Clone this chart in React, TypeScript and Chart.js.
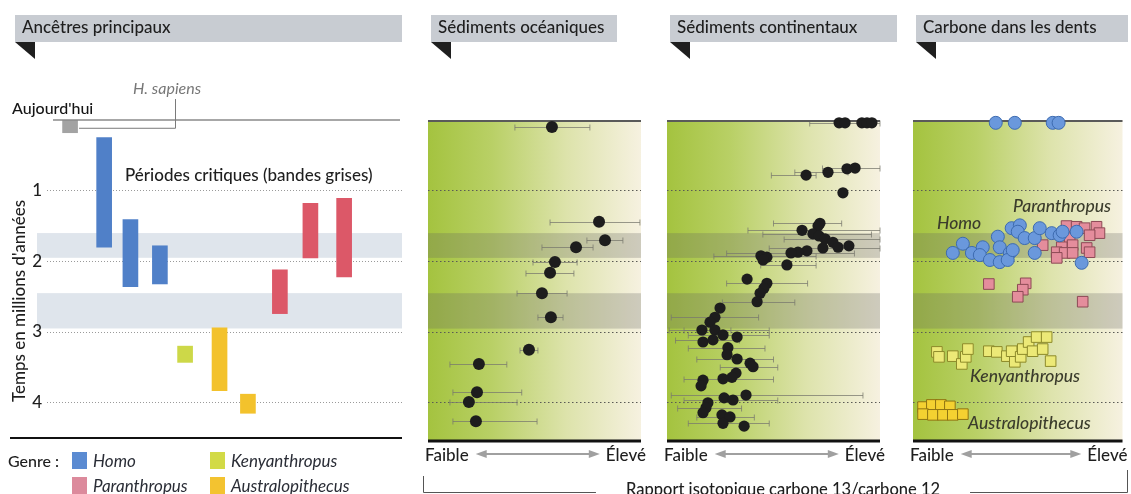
import React, { useEffect, useRef } from 'react';
import { Chart, registerables } from 'chart.js';

Chart.register(...registerables);

const FONT = 'Lato, "Noto Sans", sans-serif';
const W = 1131;
const H = 494;

// ---- shared time axis (millions of years) ----
const timeTicks = [1, 2, 3, 4];
const criticalBands = [
  [1.6, 1.95],
  [2.45, 2.95],
];

// ---- panel 1 : main ancestors (floating bars) ----
const ancestorGenus = ['sapiens', 'Homo', 'Homo', 'Homo', 'Kenyanthropus', 'Australopithecus', 'Australopithecus', 'Paranthropus', 'Paranthropus', 'Paranthropus'];
const ancestorPos = [6.5, 16.1, 23.5, 31.8, 38.9, 48.6, 56.6, 65.6, 74.2, 83.7];
const ancestorStart = [0, 0.25, 1.41, 1.78, 3.2, 2.94, 3.88, 2.12, 1.18, 1.11];
const ancestorEnd = [0.18, 1.8, 2.36, 2.32, 3.43, 3.83, 4.15, 2.74, 1.95, 2.22];

const genusNames = ['Homo', 'Paranthropus', 'Kenyanthropus', 'Australopithecus'];
const genusBarColors: Record<string, string> = {
  sapiens: '#a3a3a3',
  Homo: '#5080c8',
  Paranthropus: '#dc5868',
  Kenyanthropus: '#cdd848',
  Australopithecus: '#f3c22c',
};
const genusLegendColors = ['#5b8bd2', '#dc8a9c', '#d2da46', '#f3c330'];

// ---- panel 2 : oceanic sediments ----
const oceanX = [58.2, 80.3, 83.1, 69.5, 59.6, 57.3, 53.5, 57.7, 47.4, 23.9, 23.0, 19.2, 22.5];
const oceanT = [0.1, 1.44, 1.7, 1.8, 2.01, 2.16, 2.45, 2.79, 3.25, 3.45, 3.85, 3.99, 4.26];
const oceanLo = [40.8, 57.3, 74.6, 53.5, 49.3, 46.0, 41.8, 51.6, 43.2, 10.3, 11.7, 10.3, 11.7];
const oceanHi = [76.0, 99.5, 91.5, 77.5, 70.0, 68.5, 65.3, 63.4, 51.6, 37.0, 44.0, 41.8, 51.2];

// ---- panel 3 : continental sediments ----
const contX = [80.8, 83.6, 91.5, 93.9, 96.2, 65.3, 75.6, 84.5, 88.3, 82.6, 71.8, 70.9, 63.4, 68.5, 71.4, 74.2, 77.9, 80.3, 85.4, 73.2, 65.7, 61.5, 58.2, 44.1, 46.9, 45.1, 56.3, 37.6, 46.9, 45.5, 43.7, 42.3, 24.9, 22.5, 20.2, 16.4, 22.5, 26.3, 16.9, 21.6, 32.9, 28.6, 28.2, 32.9, 39.0, 40.4, 32.4, 30.5, 26.3, 16.9, 16.0, 37.1, 26.8, 31.0, 19.2, 18.3, 16.9, 25.8, 29.6, 26.3, 36.2];
const contT = [0.04, 0.04, 0.04, 0.04, 0.04, 0.78, 0.74, 0.69, 0.68, 1.03, 1.46, 1.5, 1.56, 1.61, 1.64, 1.68, 1.73, 1.8, 1.78, 1.81, 1.85, 1.87, 1.88, 1.92, 1.94, 1.98, 2.05, 2.25, 2.31, 2.38, 2.45, 2.57, 2.66, 2.79, 2.86, 2.97, 2.97, 3.04, 3.14, 3.11, 3.07, 3.22, 3.32, 3.38, 3.44, 3.49, 3.58, 3.64, 3.66, 3.68, 3.76, 3.89, 3.93, 3.96, 4.0, 4.07, 4.14, 4.17, 4.2, 4.29, 4.33];
const contErrT = [0.04, 0.78, 0.68, 0.74, 1.46, 1.56, 1.61, 1.68, 1.81, 1.88, 1.92, 2.05, 2.31, 2.57, 2.79, 2.97, 2.97, 3.04, 3.11, 3.22, 3.38, 3.49, 3.66, 3.89, 3.96, 4.07, 4.2, 4.29];
const contErrLo = [67, 49, 73, 60, 50, 38, 45, 55, 48, 28, 22, 44, 28, 26, 2, 1, 8, 10, 4, 10, 14, 25, 8, 2, 8, 5, 14, 10];
const contErrHi = [100, 70, 100, 85, 82, 100, 96, 100, 100, 88, 70, 70, 66, 60, 43, 30, 48, 48, 34, 46, 50, 52, 50, 92, 52, 35, 41, 48];

// ---- panel 4 : carbon in teeth ----
const homoX = [39.5, 48.6, 66.7, 69.5, 19.0, 23.8, 28.1, 33.3, 31.9, 36.7, 40.5, 41.4, 41.4, 46.2, 45.2, 47.6, 47.1, 51.0, 50.0, 53.3, 58.1, 58.1, 60.5, 66.2, 70.0, 71.4, 78.1, 80.5];
const homoT = [0.04, 0.04, 0.04, 0.04, 1.88, 1.75, 1.88, 1.8, 1.91, 1.98, 1.65, 1.8, 2.01, 1.88, 1.98, 1.84, 1.53, 1.49, 1.58, 1.67, 1.67, 1.88, 1.53, 1.6, 1.63, 1.58, 1.58, 2.02];
const paraX = [73.3, 78.1, 81.9, 87.6, 89.0, 84.3, 74.8, 61.9, 76.2, 71.0, 68.6, 72.4, 76.2, 82.9, 84.3, 68.6, 36.2, 53.8, 52.4, 50.0, 81.0];
const paraT = [1.5, 1.51, 1.53, 1.51, 1.6, 1.63, 1.67, 1.77, 1.77, 1.8, 1.87, 1.88, 1.88, 1.81, 1.87, 1.95, 2.32, 2.31, 2.4, 2.5, 2.57];
const kenyaX = [11.4, 12.4, 19.0, 23.3, 25.2, 26.2, 36.2, 40.0, 44.8, 47.1, 48.6, 51.4, 52.4, 55.2, 57.1, 59.0, 63.8, 61.9, 65.7];
const kenyaT = [3.28, 3.35, 3.34, 3.45, 3.35, 3.24, 3.27, 3.28, 3.34, 3.27, 3.42, 3.35, 3.24, 3.14, 3.27, 3.07, 3.07, 3.24, 3.41];
const australoX = [4.8, 9.0, 13.3, 17.6, 4.8, 9.5, 14.3, 19.0, 23.8];
const australoT = [4.06, 4.03, 4.03, 4.05, 4.16, 4.17, 4.17, 4.17, 4.16];

// ---------- drawing helpers ----------
function drawHeader(ctx: CanvasRenderingContext2D, x0: number, x1: number, text: string) {
  ctx.save();
  ctx.fillStyle = '#c8ccd2';
  ctx.fillRect(x0, 15, x1 - x0, 27);
  ctx.fillStyle = '#1f1f1f';
  ctx.beginPath();
  ctx.moveTo(x0, 42);
  ctx.lineTo(x0 + 20, 42);
  ctx.lineTo(x0 + 20, 59);
  ctx.closePath();
  ctx.fill();
  ctx.font = `500 17px ${FONT}`;
  ctx.fillStyle = '#1e1e1e';
  ctx.textAlign = 'left';
  ctx.textBaseline = 'alphabetic';
  ctx.fillText(text, x0 + 7, 33);
  ctx.restore();
}

function drawRange(ctx: CanvasRenderingContext2D, left: number, right: number) {
  const y = 454;
  ctx.save();
  ctx.font = `500 17px ${FONT}`;
  ctx.fillStyle = '#1e1e1e';
  ctx.textBaseline = 'alphabetic';
  ctx.textAlign = 'left';
  ctx.fillText('Faible', left - 3, 461);
  const wF = ctx.measureText('Faible').width;
  ctx.textAlign = 'right';
  ctx.fillText('Élevé', right + 5, 461);
  const wE = ctx.measureText('Élevé').width;
  const ax0 = left - 3 + wF + 7;
  const ax1 = right + 5 - wE - 6;
  ctx.strokeStyle = '#a0a0a0';
  ctx.fillStyle = '#a0a0a0';
  ctx.lineWidth = 2;
  ctx.beginPath();
  ctx.moveTo(ax0 + 8, y);
  ctx.lineTo(ax1 - 8, y);
  ctx.stroke();
  ctx.beginPath();
  ctx.moveTo(ax0, y);
  ctx.lineTo(ax0 + 11, y - 4);
  ctx.lineTo(ax0 + 11, y + 4);
  ctx.closePath();
  ctx.fill();
  ctx.beginPath();
  ctx.moveTo(ax1, y);
  ctx.lineTo(ax1 - 11, y - 4);
  ctx.lineTo(ax1 - 11, y + 4);
  ctx.closePath();
  ctx.fill();
  ctx.restore();
}

// ---------- panel 1 ----------
const ancestorsPlugin = {
  id: 'ancestorsDecor',
  beforeDraw(chart: any) {
    const { ctx, chartArea: a, scales } = chart;
    const y = scales.y;
    ctx.save();
    ctx.fillStyle = '#dfe5ec';
    for (const [s, e] of criticalBands) {
      const y0 = y.getPixelForValue(s);
      const y1 = y.getPixelForValue(e);
      ctx.fillRect(a.left - 10, y0, a.right - a.left + 10, y1 - y0);
    }
    ctx.restore();
  },
  afterDraw(chart: any) {
    const { ctx, chartArea: a, scales } = chart;
    const x = scales.x;
    const y = scales.y;
    ctx.save();
    drawHeader(ctx, 15, a.right, 'Ancêtres principaux');

    // "today" line
    const y0 = y.getPixelForValue(0);
    ctx.strokeStyle = '#8a8a8a';
    ctx.lineWidth = 1.5;
    ctx.beginPath();
    ctx.moveTo(a.left + 6, y0);
    ctx.lineTo(a.right - 2, y0);
    ctx.stroke();

    ctx.font = `500 16px ${FONT}`;
    ctx.fillStyle = '#151515';
    ctx.textAlign = 'left';
    ctx.fillText("Aujourd'hui", 12, 114);

    // H. sapiens label + bracket
    ctx.font = `italic 16px ${FONT}`;
    ctx.fillStyle = '#777';
    ctx.fillText('H. sapiens', 133, 94);
    const yb = y.getPixelForValue(0.11);
    const xb = x.getPixelForValue(ancestorPos[0]) + 9;
    ctx.strokeStyle = '#7a7a7a';
    ctx.lineWidth = 1;
    ctx.beginPath();
    ctx.moveTo(175.5, 99);
    ctx.lineTo(175.5, yb + 0.5);
    ctx.lineTo(xb, yb + 0.5);
    ctx.stroke();

    ctx.font = `500 17px ${FONT}`;
    ctx.fillStyle = '#1e1e1e';
    ctx.fillText('Périodes critiques (bandes grises)', 125, 181);

    // vertical axis title
    ctx.save();
    ctx.translate(20, 301);
    ctx.rotate(-Math.PI / 2);
    ctx.textAlign = 'center';
    ctx.font = `500 17px ${FONT}`;
    ctx.fillStyle = '#1e1e1e';
    ctx.fillText("Temps en millions d'années", 0, 5);
    ctx.restore();

    // bottom rule
    ctx.strokeStyle = '#111';
    ctx.lineWidth = 2;
    ctx.beginPath();
    ctx.moveTo(10, a.bottom);
    ctx.lineTo(a.right, a.bottom);
    ctx.stroke();

    // legend
    ctx.font = `500 16px ${FONT}`;
    ctx.fillStyle = '#1e1e1e';
    ctx.textAlign = 'left';
    ctx.fillText('Genre :', 8, 467);
    const cols = [72, 210];
    const rows = [452, 477];
    const order = [
      [0, 0],
      [0, 1],
      [1, 0],
      [1, 1],
    ];
    genusNames.forEach((name, i) => {
      const [c, r] = order[i];
      ctx.fillStyle = genusLegendColors[i];
      ctx.fillRect(cols[c], rows[r], 15, 17);
      ctx.font = `italic 17px ${FONT}`;
      ctx.fillStyle = '#2a2d36';
      ctx.fillText(name, cols[c] + 21, rows[r] + 15);
    });
    ctx.restore();
  },
};

function ancestorsConfig(): any {
  return {
    type: 'bar',
    data: {
      datasets: [
        {
          data: ancestorPos.map((p, i) => ({ x: p, y: [ancestorStart[i], ancestorEnd[i]] })),
          backgroundColor: ancestorGenus.map((g) => genusBarColors[g]),
          borderWidth: 0,
          barThickness: 15,
        },
      ],
    },
    options: {
      responsive: false,
      animation: false,
      devicePixelRatio: 1,
      events: [],
      layout: { padding: { left: 0, top: 120, right: W - 402, bottom: H - 438 } },
      plugins: { legend: { display: false }, tooltip: { enabled: false } },
      scales: {
        x: { type: 'linear', min: 0, max: 100, display: false, offset: false },
        y: {
          type: 'linear',
          reverse: true,
          min: 0,
          max: 4.5,
          afterFit: (s: any) => {
            s.width = 47;
          },
          afterBuildTicks: (s: any) => {
            s.ticks = timeTicks.map((v) => ({ value: v }));
          },
          ticks: { font: { family: FONT, size: 17, weight: '500' }, color: '#1e1e1e', padding: 5 },
          grid: { color: '#9a9a9a', lineWidth: 1, drawTicks: false },
          border: { display: false, dash: [1, 2] },
        },
      },
    },
    plugins: [ancestorsPlugin],
  };
}

// ---------- panels 2-4 ----------
function isoPlugin(title: string, hdrRight: number, errors: { t: number; lo: number; hi: number }[], labels?: (ctx: CanvasRenderingContext2D) => void, extra?: (ctx: CanvasRenderingContext2D) => void) {
  return {
    id: 'isoDecor',
    beforeDraw(chart: any) {
      const { ctx, chartArea: a, scales } = chart;
      const y = scales.y;
      ctx.save();
      const g = ctx.createLinearGradient(a.left, 0, a.right, 0);
      g.addColorStop(0, '#a4c33f');
      g.addColorStop(0.3, '#b9d066');
      g.addColorStop(0.65, '#dde3ab');
      g.addColorStop(1, '#f6f1e0');
      ctx.fillStyle = g;
      ctx.fillRect(a.left, a.top, a.right - a.left, a.bottom - a.top);
      ctx.fillStyle = 'rgba(100,100,95,0.27)';
      for (const [s, e] of criticalBands) {
        const y0 = y.getPixelForValue(s);
        const y1 = y.getPixelForValue(e);
        ctx.fillRect(a.left, y0, a.right - a.left, y1 - y0);
      }
      drawHeader(ctx, a.left + 3, hdrRight, title);
      drawRange(ctx, a.left, a.right);
      if (extra) extra(ctx);
      ctx.restore();
    },
    beforeDatasetsDraw(chart: any) {
      const { ctx, chartArea: a, scales } = chart;
      const x = scales.x;
      const y = scales.y;
      ctx.save();
      // error bars
      ctx.strokeStyle = 'rgba(120,120,110,0.75)';
      ctx.lineWidth = 1;
      for (const e of errors) {
        const py = Math.round(y.getPixelForValue(e.t)) + 0.5;
        const x0 = x.getPixelForValue(e.lo);
        const x1 = x.getPixelForValue(e.hi);
        ctx.beginPath();
        ctx.moveTo(x0, py);
        ctx.lineTo(x1, py);
        ctx.moveTo(x0, py - 3);
        ctx.lineTo(x0, py + 3);
        ctx.moveTo(x1, py - 3);
        ctx.lineTo(x1, py + 3);
        ctx.stroke();
      }
      // top and bottom rules
      ctx.strokeStyle = '#5a5a5a';
      ctx.lineWidth = 2;
      ctx.beginPath();
      ctx.moveTo(a.left, y.getPixelForValue(0) + 1);
      ctx.lineTo(a.right, y.getPixelForValue(0) + 1);
      ctx.stroke();
      ctx.strokeStyle = '#111';
      ctx.lineWidth = 3;
      ctx.beginPath();
      ctx.moveTo(a.left, a.bottom);
      ctx.lineTo(a.right, a.bottom);
      ctx.stroke();
      ctx.restore();
    },
    afterDatasetsDraw(chart: any) {
      if (labels) {
        const { ctx } = chart;
        ctx.save();
        labels(ctx);
        ctx.restore();
      }
    },
  };
}

function isoConfig(left: number, right: number, datasets: any[], plugin: any): any {
  return {
    type: 'scatter',
    data: { datasets },
    options: {
      responsive: false,
      animation: false,
      devicePixelRatio: 1,
      events: [],
      layout: { padding: { left, top: 120, right: W - right, bottom: H - 441 } },
      plugins: { legend: { display: false }, tooltip: { enabled: false } },
      scales: {
        x: { type: 'linear', min: 0, max: 100, display: false, offset: false },
        y: {
          type: 'linear',
          reverse: true,
          min: 0,
          max: 4.54,
          afterFit: (s: any) => {
            s.width = 0;
          },
          afterBuildTicks: (s: any) => {
            s.ticks = timeTicks.map((v) => ({ value: v }));
          },
          ticks: { display: false },
          grid: { color: '#5a5a55', lineWidth: 1, drawTicks: false },
          border: { display: false, dash: [1.5, 2.5] },
        },
      },
    },
    plugins: [plugin],
  };
}

function pts(xs: number[], ts: number[]) {
  return xs.map((v, i) => ({ x: v, y: ts[i] }));
}

const oceanErrors = oceanT.map((t, i) => ({ t, lo: oceanLo[i], hi: oceanHi[i] }));
const contErrors = contErrT.map((t, i) => ({ t, lo: contErrLo[i], hi: contErrHi[i] }));

function drawBracket(ctx: CanvasRenderingContext2D) {
  ctx.save();
  ctx.font = `500 16.5px ${FONT}`;
  ctx.fillStyle = '#1e1e1e';
  ctx.textAlign = 'center';
  const label = 'Rapport isotopique carbone 13/carbone 12';
  const cx = 783;
  ctx.fillText(label, cx, 495);
  const w = ctx.measureText(label).width;
  ctx.strokeStyle = '#555';
  ctx.lineWidth = 1;
  ctx.beginPath();
  ctx.moveTo(423.5, 476);
  ctx.lineTo(423.5, 492.5);
  ctx.lineTo(cx - w / 2 - 30, 492.5);
  ctx.moveTo(cx + w / 2 + 30, 492.5);
  ctx.lineTo(1127.5, 492.5);
  ctx.lineTo(1127.5, 470);
  ctx.stroke();
  ctx.restore();
}

function teethLabels(ctx: CanvasRenderingContext2D) {
  ctx.font = `italic 500 17.5px ${FONT}`;
  ctx.fillStyle = '#3b3c2c';
  ctx.textAlign = 'left';
  ctx.fillText('Homo', 937, 229);
  ctx.fillText('Paranthropus', 1013, 212);
  ctx.fillText('Kenyanthropus', 970, 382);
  ctx.fillText('Australopithecus', 968, 429);
}

export default function App() {
  const r1 = useRef<HTMLCanvasElement>(null);
  const r2 = useRef<HTMLCanvasElement>(null);
  const r3 = useRef<HTMLCanvasElement>(null);
  const r4 = useRef<HTMLCanvasElement>(null);

  useEffect(() => {
    const charts: Chart[] = [];
    charts.push(new Chart(r1.current as HTMLCanvasElement, ancestorsConfig()));
    charts.push(
      new Chart(
        r2.current as HTMLCanvasElement,
        isoConfig(
          428,
          641,
          [{ data: pts(oceanX, oceanT), backgroundColor: '#1d1d1d', borderWidth: 0, pointRadius: 6, clip: false }],
          isoPlugin('Sédiments océaniques', 617, oceanErrors)
        )
      )
    );
    charts.push(
      new Chart(
        r3.current as HTMLCanvasElement,
        isoConfig(
          667,
          880,
          [{ data: pts(contX, contT), backgroundColor: '#1d1d1d', borderWidth: 0, pointRadius: 5.6, clip: false }],
          isoPlugin('Sédiments continentaux', 897, contErrors, undefined, drawBracket)
        )
      )
    );
    charts.push(
      new Chart(
        r4.current as HTMLCanvasElement,
        isoConfig(
          913,
          1123,
          [
            { data: pts(homoX, homoT), backgroundColor: '#6a98dc', borderColor: '#3d6bb0', borderWidth: 1, pointRadius: 6.5, clip: false },
            { data: pts(paraX, paraT), pointStyle: 'rect', backgroundColor: '#e48d9c', borderColor: '#8c4a55', borderWidth: 1, pointRadius: 7.5, clip: false },
            { data: pts(kenyaX, kenyaT), pointStyle: 'rect', backgroundColor: '#ece977', borderColor: '#8d8a2a', borderWidth: 1, pointRadius: 7.5, clip: false },
            { data: pts(australoX, australoT), pointStyle: 'rect', backgroundColor: '#f4d131', borderColor: '#8f7412', borderWidth: 1, pointRadius: 7.5, clip: false },
          ],
          isoPlugin('Carbone dans les dents', 1128, [], teethLabels)
        )
      )
    );
    return () => charts.forEach((c) => c.destroy());
  }, []);

  const cs: React.CSSProperties = { position: 'absolute', left: 0, top: 0 };
  return (
    <div style={{ position: 'fixed', left: 0, top: 0, width: W, height: H, background: '#fff', overflow: 'hidden' }}>
      <canvas ref={r1} width={W} height={H} style={cs} />
      <canvas ref={r2} width={W} height={H} style={cs} />
      <canvas ref={r3} width={W} height={H} style={cs} />
      <canvas ref={r4} width={W} height={H} style={cs} />
    </div>
  );
}
